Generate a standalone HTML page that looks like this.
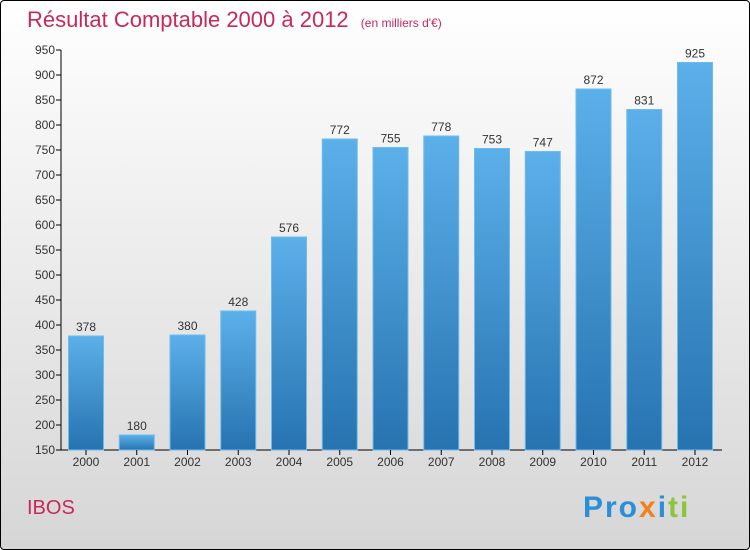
<!DOCTYPE html>
<html><head><meta charset="utf-8"><style>
body{margin:0;width:750px;height:550px;overflow:hidden;font-family:"Liberation Sans",sans-serif}
#wrap{position:absolute;left:0;top:0;width:748px;height:548px;border:1px solid #000;border-radius:4px;background:linear-gradient(#ffffff,#d6d6d6)}
</style></head><body>
<div id="wrap"></div>
<svg id="chart" width="750" height="550" style="position:absolute;left:0;top:0">
<defs><linearGradient id="bg" x1="0" y1="0" x2="0" y2="1"><stop offset="0" stop-color="#5cb0ea"/><stop offset="1" stop-color="#2673b0"/></linearGradient></defs>
<text x="27" y="27" font-size="22" fill="#c8285a">Résultat Comptable 2000 à 2012 <tspan font-size="12" dx="6">(en milliers d'€)</tspan></text>
<text x="27" y="514" font-size="20" fill="#c8285a">IBOS</text>
<text x="583" y="517" font-size="30" font-weight="bold" letter-spacing="2"><tspan fill="#2a8fd8">Pro</tspan><tspan fill="#f08020">x</tspan><tspan fill="#2a8fd8">i</tspan><tspan fill="#8cc43c">ti</tspan></text>
<g id="g"></g>
</svg>
<script>
const categories=["2000","2001","2002","2003","2004","2005","2006","2007","2008","2009","2010","2011","2012"];
const values=[378,180,380,428,576,772,755,778,753,747,872,831,925];
const ticks=[150,200,250,300,350,400,450,500,550,600,650,700,750,800,850,900,950];
const NS="http://www.w3.org/2000/svg",g=document.getElementById('g');
const y=v=>450-(v-150)*0.5, x=i=>86+i*50.75;
function mk(t,a){const e=document.createElementNS(NS,t);for(const k in a)e.setAttribute(k,a[k]);g.appendChild(e);return e;}
let ax=mk('line',{x1:61,y1:50,x2:61,y2:450,stroke:'#000'});


let bx=mk('line',{x1:61,y1:450,x2:722,y2:450,stroke:'#000'});


ticks.forEach(t=>{
 mk('line',{x1:56,x2:61,y1:y(t),y2:y(t),stroke:'#000'});
 const l=mk('text',{x:55,y:y(t)+4,'font-size':12,'text-anchor':'end',fill:'#333'});l.textContent=t;
 
 
});
categories.forEach((c,i)=>{
 const v=values[i];
 const r=mk('rect',{x:x(i)-17.5,y:y(v),width:35,height:450-y(v),fill:'url(#bg)',stroke:'#6cbcf0','stroke-width':1});
 
 
 const vl=mk('text',{x:x(i),y:y(v)-5,'font-size':12,'text-anchor':'middle',fill:'#333'});vl.textContent=v;
 
 
 mk('line',{x1:x(i),x2:x(i),y1:450,y2:455,stroke:'#000'});
 const cl=mk('text',{x:x(i),y:466,'font-size':12,'text-anchor':'middle',fill:'#333'});cl.textContent=c;
 
 
});
</script>
</body></html>
